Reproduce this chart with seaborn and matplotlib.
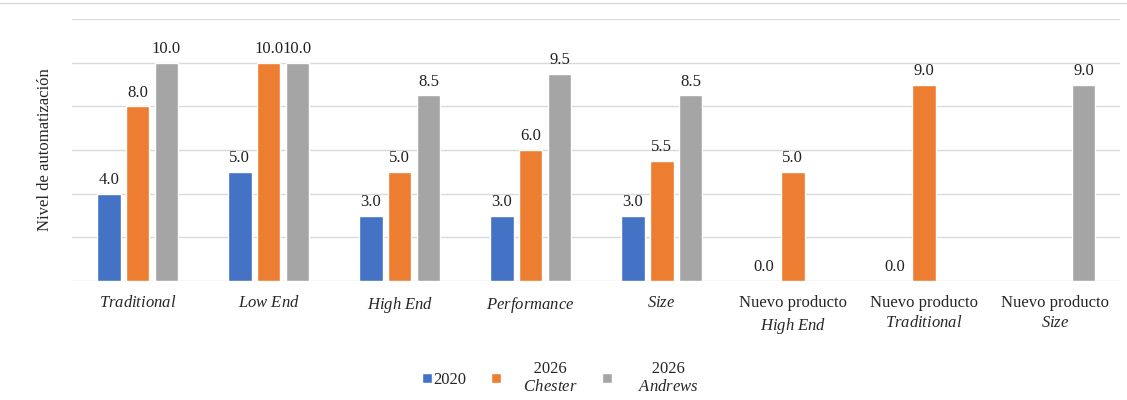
import seaborn as sns
import matplotlib.pyplot as plt
import numpy as np
import pandas as pd
from matplotlib.lines import Line2D

categories = ["Traditional", "Low End", "High End", "Performance", "Size",
              "NP High End", "NP Traditional", "NP Size"]
tick_labels = [
    "$\\mathit{Traditional}$",
    "$\\mathit{Low\\ End}$",
    "$\\mathit{High\\ End}$",
    "$\\mathit{Performance}$",
    "$\\mathit{Size}$",
    "Nuevo producto\n$\\mathit{High\\ End}$",
    "Nuevo producto\n$\\mathit{Traditional}$",
    "Nuevo producto\n$\\mathit{Size}$",
]
series = ["2020", "2026 Chester", "2026 Andrews"]
series_labels = ["2020",
                 "     2026\n     $\\mathit{Chester}$",
                 "      2026\n      $\\mathit{Andrews}$"]
values_2020 = [4.0, 5.0, 3.0, 3.0, 3.0, 0.0, 0.0, np.nan]
values_chester = [8.0, 10.0, 5.0, 6.0, 5.5, 5.0, 9.0, np.nan]
values_andrews = [10.0, 10.0, 8.5, 9.5, 8.5, np.nan, np.nan, 9.0]
colors = ["#4472C4", "#ED7D31", "#A5A5A5"]

df = pd.DataFrame({
    "categoria": categories * 3,
    "serie": np.repeat(series, len(categories)),
    "valor": values_2020 + values_chester + values_andrews,
}).dropna()

sns.set_style("white")
plt.rcParams["font.family"] = ["Liberation Serif", "DejaVu Serif"]
plt.rcParams["mathtext.fontset"] = "custom"
plt.rcParams["mathtext.rm"] = "Liberation Serif"
plt.rcParams["mathtext.it"] = "Liberation Serif:italic"

fig = plt.figure(figsize=(11.27, 4), dpi=100)
ax = fig.add_axes([0.064, 0.2975, 0.93, 0.655])

sns.barplot(data=df, x="categoria", y="valor", hue="serie",
            order=categories, hue_order=series, palette=colors,
            width=0.66, gap=0.18, saturation=1, ax=ax, legend=True)

for container in ax.containers:
    ax.bar_label(container, fmt="%.1f", padding=4, fontsize=12, color="#222222")

ax.set_ylim(0, 12)
ax.set_yticks(np.arange(0, 13, 2))
ax.set_yticklabels([])
ax.tick_params(axis="y", length=0)
ax.tick_params(axis="x", length=0, pad=10)
ax.grid(axis="y", color="#d9d9d9", linewidth=1)
ax.set_axisbelow(True)
for s in ax.spines.values():
    s.set_visible(False)
ax.set_xlabel("")
ax.set_ylabel("Nivel de automatización", fontsize=12, labelpad=10)
ax.set_xticks(range(len(categories)))
ax.set_xticklabels(tick_labels, fontsize=12, linespacing=1.35)

handles, _ = ax.get_legend_handles_labels()
ax.legend_.remove()
leg = fig.legend(handles, series_labels, loc="center", bbox_to_anchor=(0.497, 0.055),
                 ncol=3, frameon=False, fontsize=12, handlelength=0.6,
                 handleheight=0.6, handletextpad=0.1, columnspacing=1.5)
for t in leg.get_texts():
    t.set_multialignment("center")

fig.add_artist(Line2D([0, 1], [0.992, 0.992], color="#d9d9d9", linewidth=1))

fig.savefig("out.png", dpi=100)
